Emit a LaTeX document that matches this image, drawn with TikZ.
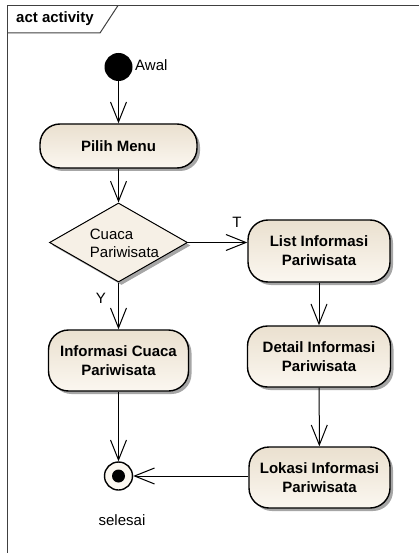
\documentclass[tikz,border=0pt]{standalone}
\usepackage{fontspec}
\setmainfont{Liberation Sans}
\usetikzlibrary{shapes.geometric,arrows.meta,shadows}
\definecolor{beigeT}{RGB}{234,224,207}
\definecolor{beigeB}{RGB}{251,247,240}
\begin{document}
\begin{tikzpicture}[x=1pt,y=-1pt,
  shadowed/.style={drop shadow={shadow xshift=3pt,shadow yshift=-3pt,fill=black!35,opacity=1}},
  act/.style={rectangle, draw=black, line width=1.4pt, rounded corners=20pt,
    top color=beigeT, bottom color=beigeB, shadowed,
    font=\fontsize{15}{19}\selectfont\bfseries, align=center, inner sep=0pt},
  decision/.style={diamond, draw=black, line width=1pt, fill=beigeB!70!beigeT,
    shadowed, minimum width=138pt, minimum height=79pt, inner sep=0pt},
  startnode/.style={circle, fill=black, minimum size=28pt, inner sep=0pt},
  endnode/.style={circle, draw=black, line width=1.4pt, fill=beigeB, minimum size=28pt, inner sep=0pt,
    path picture={\fill[black] (path picture bounding box.center) circle (6.5pt);}},
  lbl/.style={font=\fontsize{15}{18}\selectfont, inner sep=0pt},
  flow/.style={draw=black, line width=1pt, -{Straight Barb[length=20pt,width=16pt]}}
]
\useasboundingbox (0,0) rectangle (419,553);
% frame
\draw[line width=1.2pt, black!75] (419,5.5) -- (7.5,5.5) -- (7.5,553);
\draw[line width=1pt, black!75] (7.5,33) -- (100,33) -- (118,5.5);
\node[lbl, font=\fontsize{15}{18}\selectfont\bfseries] (frametitle) at (55,19) {act activity};

% nodes
\node[startnode] (init) at (118.5,67) {};
\node[lbl, anchor=west] (awal) at (135,65) {Awal};
\node[act, minimum width=157pt, minimum height=44pt] (pilih) at (118.5,146) {Pilih Menu};
\node[decision] (dec) at (118.5,242.5) {};
\node[lbl, align=left] (dectext) at (124.5,243) {Cuaca\\Pariwisata};
\node[act, minimum width=142pt, minimum height=62pt] (list) at (319,251) {List Informasi\\Pariwisata};
\node[act, minimum width=140pt, minimum height=61pt] (infocuaca) at (118.5,360.5) {Informasi Cuaca\\Pariwisata};
\node[act, minimum width=143pt, minimum height=61pt] (detail) at (319,356.5) {Detail Informasi\\Pariwisata};
\node[act, minimum width=141pt, minimum height=61pt] (lokasi) at (319.5,477.5) {Lokasi Informasi\\Pariwisata};
\node[endnode] (final) at (118.5,476) {};
\node[lbl] (selesai) at (122,520) {selesai};
\node[lbl] (tlabel) at (237,222) {T};
\node[lbl] (ylabel) at (101,298) {Y};

% connectors
\draw[flow] (init) -- (pilih);
\draw[flow] (pilih) -- (dec);
\draw[flow] (dec.east) -- (dec.east -| list.west);
\draw[flow] (dec) -- (infocuaca);
\draw[flow] (list) -- (detail);
\draw[flow] (detail) -- (lokasi);
\draw[flow] (infocuaca) -- (final);
\draw[flow] (lokasi.west |- final) -- (final);
\end{tikzpicture}
\end{document}
